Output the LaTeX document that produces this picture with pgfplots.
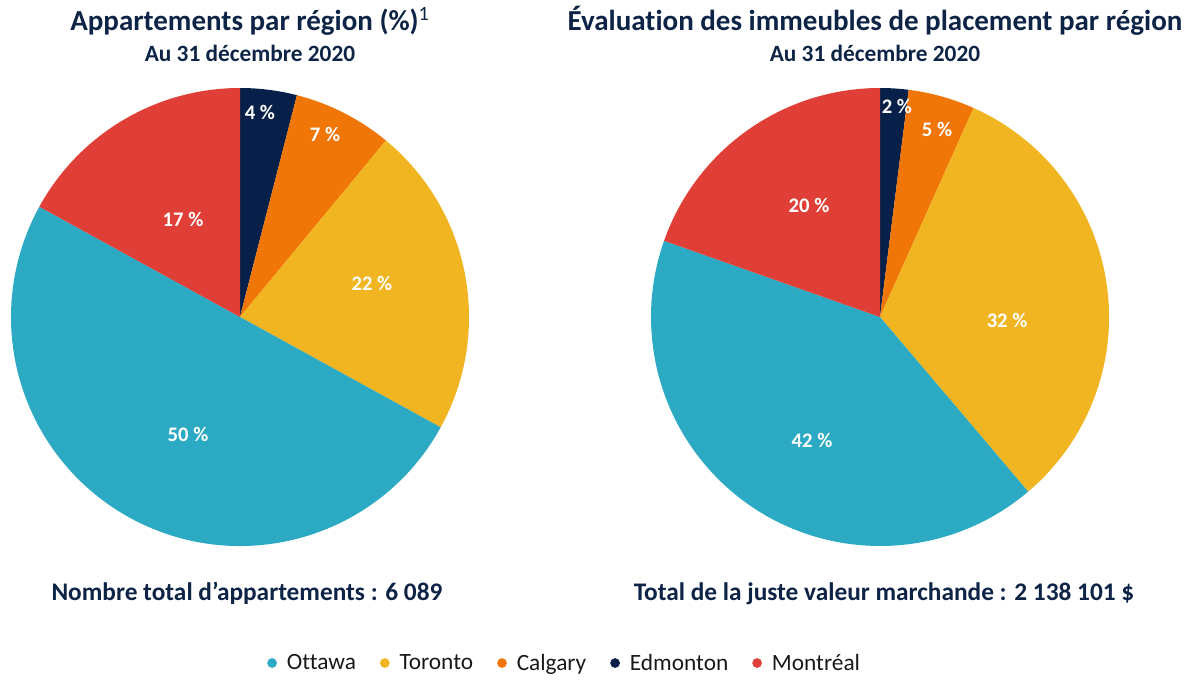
\documentclass[border=0pt]{standalone}
\usepackage{pgfplots}
\usepackage{pgfplotstable}
\pgfplotsset{compat=1.18}
\usepackage{fontspec}
\setmainfont{Carlito}[Ligatures=CommonOff]

\definecolor{ottawa}{HTML}{2DAAC3}
\definecolor{toronto}{HTML}{F0B521}
\definecolor{calgary}{HTML}{F07608}
\definecolor{edmonton}{HTML}{06204A}
\definecolor{montreal}{HTML}{E03F37}
\definecolor{titre}{HTML}{0E2446}

% part of each region, in percent, clockwise from 12 o'clock
\pgfplotstableread{
region   pct lab lx     ly
edmonton 4   4    0.087  0.895
calgary  7   7    0.371  0.795
toronto  22  22   0.576  0.148
ottawa   50  50  -0.227 -0.515
montreal 17  17  -0.249  0.428
}\appart

\pgfplotstableread{
region   pct  lab lx     ly
edmonton 2.0  2    0.074  0.921
calgary  4.7  5    0.249  0.817
toronto  32.1 32   0.555 -0.017
ottawa   41.6 42  -0.297 -0.541
montreal 19.6 20  -0.310  0.489
}\evaluation

\def\pierad{171.75pt}
\newcommand\drawpie[1]{%
  \pgfplotstablegetrowsof{#1}%
  \pgfmathtruncatemacro\lastrow{\pgfplotsretval-1}%
  \xdef\startangle{90}%
  \foreach \i in {0,...,\lastrow}{%
    \pgfplotstablegetelem{\i}{region}\of{#1}\let\reg\pgfplotsretval
    \pgfplotstablegetelem{\i}{pct}\of{#1}\let\pc\pgfplotsretval
    \pgfmathsetmacro\endangle{\startangle-3.6*\pc}%
    \fill[\reg] (axis cs:0,0) -- (axis cs:{cos(\startangle)},{sin(\startangle)})
      arc[start angle=\startangle, end angle=\endangle, radius=\pierad] -- cycle;
    \xdef\startangle{\endangle}%
  }%
  \foreach \i in {0,...,\lastrow}{%
    \pgfplotstablegetelem{\i}{lab}\of{#1}\let\lb\pgfplotsretval
    \pgfplotstablegetelem{\i}{lx}\of{#1}\let\px\pgfplotsretval
    \pgfplotstablegetelem{\i}{ly}\of{#1}\let\py\pgfplotsretval
    \node[text=white, font=\bfseries\fontsize{15.5}{18}\selectfont]
      at (axis cs:\px,\py) {\lb\ \%};
  }%
}

\pgfplotsset{pie/.style={
  scale only axis, width=343.5pt, height=343.5pt,
  xmin=-1, xmax=1, ymin=-1, ymax=1,
  hide axis, clip=false, anchor=center}}

\begin{document}
\begin{tikzpicture}
\path[use as bounding box] (0pt,0pt) rectangle (899.25pt,509.25pt);

\begin{axis}[pie, at={(180pt,271.5pt)},
  legend style={at={(1.2096,-0.2555)}, anchor=center, draw=none, fill=none,
    legend columns=-1, font=\fontsize{17.5}{21}\selectfont, text=black!90,
    /tikz/every odd column/.append style={column sep=5.5pt},
    /tikz/every even column/.append style={column sep=16pt}},
  legend image code/.code={\fill[#1] (0pt,0pt) circle (3.4pt);}]
  \pgfplotsextra{\drawpie{\appart}}
  \addlegendimage{ottawa}\addlegendentry{Ottawa}
  \addlegendimage{toronto}\addlegendentry{Toronto}
  \addlegendimage{calgary}\addlegendentry{Calgary}
  \addlegendimage{edmonton}\addlegendentry{Edmonton}
  \addlegendimage{montreal}\addlegendentry{Montréal}
\end{axis}

\begin{axis}[pie, at={(660pt,271.5pt)}]
  \pgfplotsextra{\drawpie{\evaluation}}
\end{axis}

\begin{scope}[text=titre]
\node[anchor=base, font=\bfseries\fontsize{21.75}{26}\selectfont] at (187.5pt,486pt)
  {Appartements par région (\%)\textsuperscript{\mdseries 1}};
\node[anchor=base, font=\bfseries\fontsize{17.5}{20}\selectfont] at (187.5pt,462.75pt)
  {Au 31 décembre 2020};
\node[anchor=base, font=\bfseries\fontsize{21.75}{26}\selectfont] at (656.25pt,486pt)
  {Évaluation des immeubles de placement par région};
\node[anchor=base, font=\bfseries\fontsize{17.5}{20}\selectfont] at (656.25pt,462.75pt)
  {Au 31 décembre 2020};
\node[anchor=base, font=\bfseries\fontsize{19}{23}\selectfont] at (185.25pt,59.25pt)
  {Nombre total d’appartements~: 6~089};
\node[anchor=base, font=\bfseries\fontsize{19}{23}\selectfont] at (663pt,59.25pt)
  {Total de la juste valeur marchande~: 2~138~101~\$};
\end{scope}
\end{tikzpicture}
\end{document}
